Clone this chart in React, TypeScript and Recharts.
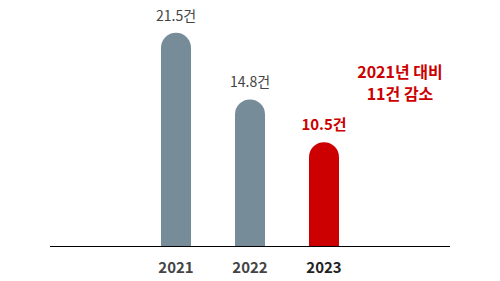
import React from "react";
import { BarChart, Bar, XAxis, YAxis, Cell, LabelList } from "recharts";

const years = ["2021", "2022", "2023"];
const counts = [21.5, 14.8, 10.5];
const valueLabels = ["21.5건", "14.8건", "10.5건"];
const noteLines = ["2021년 대비", "11건 감소"];

const GREY = "#778c99";
const RED = "#cc0000";
const FONT = "'Noto Sans CJK KR', 'Noto Sans', sans-serif";

const data = years.map((y, i) => ({ year: y, value: counts[i], label: valueLabels[i] }));

const Tick = (props: any) => {
  const { x, y, payload } = props;
  const last = payload.value === "2023";
  return (
    <text x={x} y={y + 18} textAnchor="middle" fontFamily={FONT} fontSize={15} fontWeight={700} fill={last ? "#222" : "#444"}>
      {payload.value}
    </text>
  );
};

const ValLabel = (props: any) => {
  const { x, y, width, index } = props;
  const last = index === data.length - 1;
  return (
    <text x={x + width / 2} y={y - 12} textAnchor="middle" fontFamily={FONT} fontSize={last ? 15 : 14} fontWeight={last ? 700 : 400} fill={last ? RED : "#444"}>
      {data[index].label}
    </text>
  );
};

export default function App() {
  return (
    <div style={{ position: "absolute", left: 0, top: 0, width: 500, height: 281 }}>
      <BarChart width={500} height={281} data={data} margin={{ top: 8, right: 50, bottom: 0, left: 50 }}>
        <YAxis hide domain={[0, 24]} />
        <XAxis
          dataKey="year"
          height={34.5}
          padding={{ left: 89, right: 89 }}
          axisLine={{ stroke: "#000", strokeWidth: 1 }}
          tickLine={false}
          tick={<Tick />}
        />
        <Bar dataKey="value" barSize={30} radius={[15, 15, 0, 0]} isAnimationActive={false}>
          {data.map((d, i) => (
            <Cell key={d.year} fill={i === data.length - 1 ? RED : GREY} />
          ))}
          <LabelList dataKey="label" content={<ValLabel />} />
        </Bar>
      </BarChart>
      <div
        style={{
          position: "absolute",
          left: 340,
          top: 60,
          width: 120,
          textAlign: "center",
          fontFamily: FONT,
          fontWeight: 700,
          fontSize: 16,
          lineHeight: "22px",
          color: RED,
        }}
      >
        <div>{noteLines[0]}</div>
        <div>{noteLines[1]}</div>
      </div>
    </div>
  );
}
